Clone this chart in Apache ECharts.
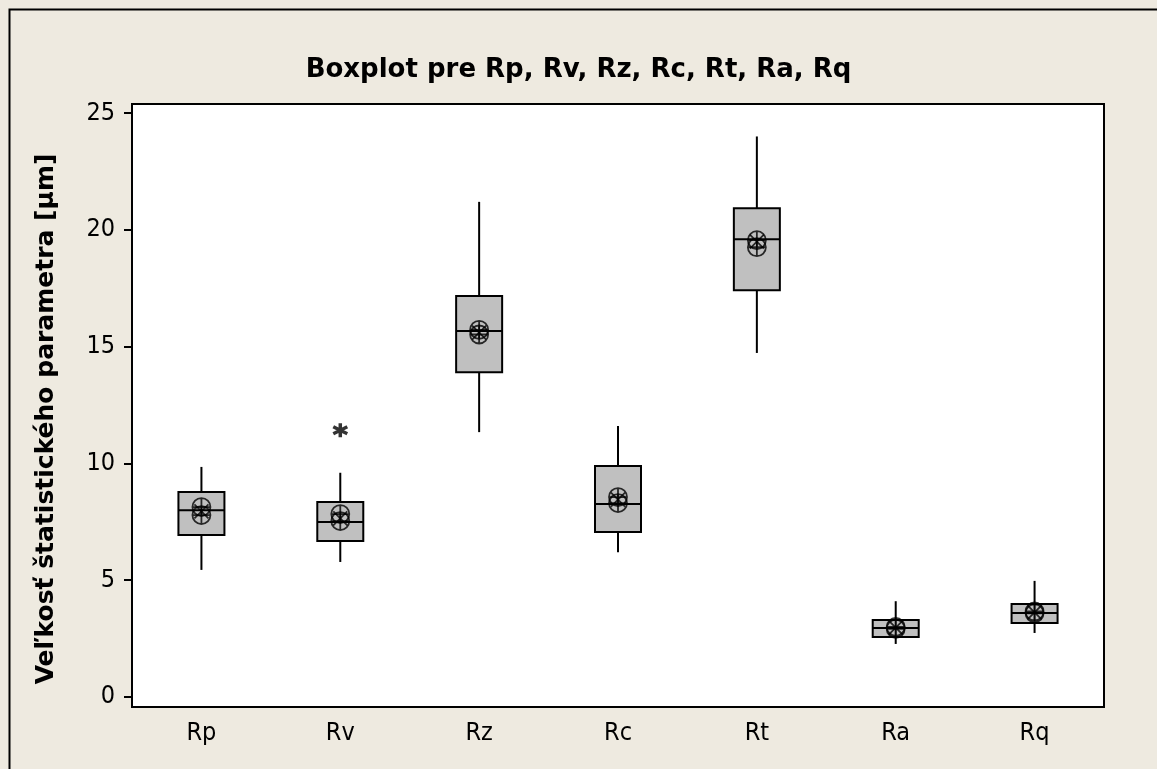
<!DOCTYPE html>
<html>
<head>
<meta charset="utf-8">
<script src="https://cdn.jsdelivr.net/npm/echarts@6/dist/echarts.min.js"></script>
<style>
  html, body { margin: 0; padding: 0; background: #eeeae0; }
  #chart { width: 1157px; height: 769px; }
</style>
</head>
<body>
<div id="chart"></div>
<script>
// categories and box statistics: [min, Q1, median, Q3, max]
const categories = ["Rp", "Rv", "Rz", "Rc", "Rt", "Ra", "Rq"];
const boxStats = [
  [5.44, 6.93, 8.0, 8.78, 9.85],
  [5.78, 6.68, 7.49, 8.35, 9.6],
  [11.34, 13.9, 15.67, 17.17, 21.2],
  [6.2, 7.06, 8.26, 9.89, 11.6],
  [14.73, 17.42, 19.6, 20.93, 24.0],
  [2.27, 2.57, 2.95, 3.3, 4.1],
  [2.74, 3.17, 3.6, 3.98, 4.97]
];
// mean symbols (two overlapping circles) and X mark
const meanUpper = [8.13, 7.83, 15.72, 8.56, 19.56, 3.0, 3.66];
const meanLower = [7.79, 7.53, 15.52, 8.3, 19.26, 2.92, 3.58];
const meanX = [7.95, 7.65, 15.6, 8.45, 19.5, 2.97, 3.62];
// outliers [categoryIndex, value]
const outliers = [[1, 11.42]];
const yTicks = [0, 5, 10, 15, 20, 25];

const chart = echarts.init(document.getElementById("chart"));
const font = "'DejaVu Sans Condensed', 'DejaVu Sans', sans-serif";
const boldFont = "'DejaVu Sans', sans-serif";

const circleCross = "path://M0 -10 A10 10 0 1 1 0 10 A10 10 0 1 1 0 -10 Z M-10 0 L10 0 M0 -10 L0 10";
const xMark = "path://M-10 -10 L10 10 M-10 10 L10 -10";
const star = "path://M0 -10 L0 10 M-8.7 -5 L8.7 5 M-8.7 5 L8.7 -5";

const BOX_W = 46;

const option = {
  backgroundColor: "#eeeae0",
  animation: false,
  title: {
    text: "Boxplot pre Rp, Rv, Rz, Rc, Rt, Ra, Rq",
    left: "center",
    top: 52,
    textStyle: { fontFamily: boldFont, fontSize: 26, fontWeight: "bold", color: "#000" }
  },
  graphic: [
    {
      type: "rect",
      left: 7, top: 7,
      shape: { width: 1170, height: 790 },
      style: { fill: "none", stroke: "#000", lineWidth: 2 },
      silent: true
    },
    {
      type: "text",
      x: 46, y: 419,
      rotation: Math.PI / 2,
      style: {
        text: "Veľkosť štatistického parametra [μm]",
        font: "bold 25px " + boldFont,
        fill: "#000",
        align: "center",
        verticalAlign: "middle"
      }
    }
  ],
  grid: {
    left: 132, top: 104, right: 53, bottom: 62,
    show: true,
    backgroundColor: "#fff",
    borderColor: "#000",
    borderWidth: 2
  },
  xAxis: {
    type: "category",
    data: categories,
    boundaryGap: true,
    axisLine: { onZero: false, lineStyle: { color: "#000", width: 2 } },
    axisTick: { alignWithLabel: true, length: 7, lineStyle: { color: "#000", width: 2 } },
    axisLabel: { fontFamily: font, fontSize: 25, color: "#000", margin: 14 },
    splitLine: { show: false }
  },
  yAxis: {
    type: "value",
    min: -0.43,
    max: 25.39,
    axisLine: { show: true, lineStyle: { color: "#000", width: 2 } },
    axisTick: { show: true, length: 8, customValues: yTicks, lineStyle: { color: "#000", width: 2 } },
    axisLabel: { fontFamily: font, fontSize: 25, color: "#000", margin: 17, customValues: yTicks },
    splitLine: { show: false }
  },
  series: [
    {
      type: "custom",
      data: boxStats.map((s, i) => [i].concat(s)),
      encode: { x: 0, y: [1, 2, 3, 4, 5] },
      renderItem: function (params, api) {
        const i = api.value(0);
        const pMin = api.coord([i, api.value(1)]);
        const pQ1 = api.coord([i, api.value(2)]);
        const pMed = api.coord([i, api.value(3)]);
        const pQ3 = api.coord([i, api.value(4)]);
        const pMax = api.coord([i, api.value(5)]);
        const x = pMed[0];
        const stroke = { stroke: "#000", lineWidth: 2 };
        return {
          type: "group",
          children: [
            { type: "line", shape: { x1: x, y1: pMin[1], x2: x, y2: pQ1[1] }, style: stroke },
            { type: "line", shape: { x1: x, y1: pQ3[1], x2: x, y2: pMax[1] }, style: stroke },
            {
              type: "rect",
              shape: { x: x - BOX_W / 2, y: pQ3[1], width: BOX_W, height: pQ1[1] - pQ3[1] },
              style: { fill: "#c0c0c0", stroke: "#000", lineWidth: 2 }
            },
            { type: "line", shape: { x1: x - BOX_W / 2, y1: pMed[1], x2: x + BOX_W / 2, y2: pMed[1] }, style: stroke }
          ]
        };
      },
      z: 2
    },
    {
      type: "scatter",
      data: meanUpper.map((v, i) => [i, v]),
      symbol: circleCross,
      symbolSize: 18,
      itemStyle: { color: "none", borderColor: "#000", borderWidth: 1.8 },
      z: 3
    },
    {
      type: "scatter",
      data: meanLower.map((v, i) => [i, v]),
      symbol: circleCross,
      symbolSize: 18,
      itemStyle: { color: "none", borderColor: "#000", borderWidth: 1.8 },
      z: 3
    },
    {
      type: "scatter",
      data: meanX.map((v, i) => [i, v]),
      symbol: xMark,
      symbolSize: 14,
      itemStyle: { color: "none", borderColor: "#000", borderWidth: 1.8 },
      z: 3
    },
    {
      type: "scatter",
      data: outliers,
      symbol: star,
      symbolSize: 14,
      itemStyle: { color: "none", borderColor: "#000", borderWidth: 3.5 },
      z: 3
    }
  ]
};

chart.setOption(option);
</script>
</body>
</html>
